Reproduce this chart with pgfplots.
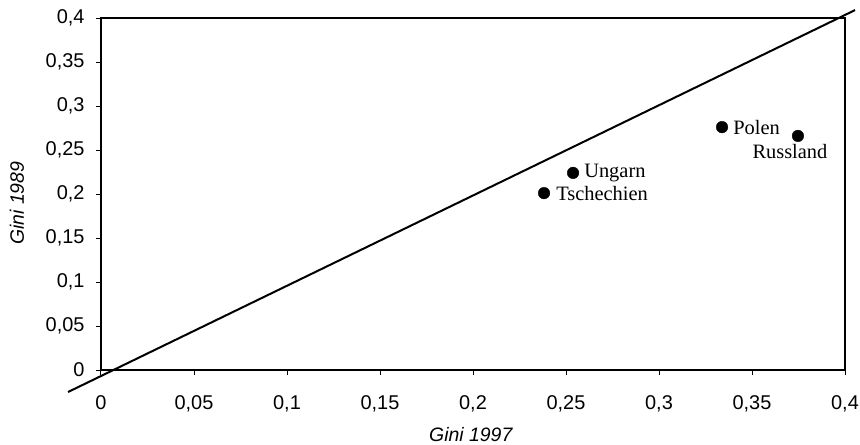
\documentclass[border=0pt]{standalone}
\usepackage{fontspec}
\setmainfont{Liberation Serif}
\setsansfont{Liberation Sans}
\usepackage{pgfplots}
\pgfplotsset{compat=1.18}
\begin{document}
\begin{tikzpicture}
\begin{axis}[
  scale only axis,
  width=744bp, height=352bp,
  xmin=0, xmax=0.4, ymin=0, ymax=0.4,
  xtick={0,0.05,0.1,0.15,0.2,0.25,0.3,0.35,0.4},
  ytick={0,0.05,0.1,0.15,0.2,0.25,0.3,0.35,0.4},
  xticklabels={0,{0,05},{0,1},{0,15},{0,2},{0,25},{0,3},{0,35},{0,4}},
  yticklabels={0,{0,05},{0,1},{0,15},{0,2},{0,25},{0,3},{0,35},{0,4}},
  tick align=outside, xtick pos=bottom, ytick pos=left,
  major tick length=5bp,
  axis line style={line width=1.4bp},
  every tick/.style={black, line width=1bp},
  tick label style={font=\fontsize{20}{22}\selectfont\sffamily},
  xticklabel style={yshift=-17bp},
  yticklabel style={xshift=-8bp},
  xlabel={Gini 1997}, ylabel={Gini 1989},
  xlabel style={font=\fontsize{19.5}{21}\selectfont\sffamily\itshape, at={(axis description cs:0.497,-0.182)}, anchor=center},
  ylabel style={font=\fontsize{19.5}{21}\selectfont\sffamily\itshape, at={(axis description cs:-0.113,0.474)}, anchor=center},
  clip=false,
]
\addplot[black, line width=2bp, no marks] coordinates {(-0.0177,-0.025) (0.4054,0.409)};
\addplot[only marks, mark=*, mark size=5.8bp, black] coordinates {
  (0.3339,0.276) (0.3747,0.266) (0.2538,0.224) (0.2382,0.201)};
\node[anchor=west, inner sep=0pt, font=\fontsize{20.5}{22}\selectfont, xshift=11bp] at (axis cs:0.3339,0.276) {Polen};
\node[anchor=north, inner sep=0pt, font=\fontsize{20.5}{22}\selectfont, xshift=-8bp, yshift=-8bp] at (axis cs:0.3747,0.266) {Russland};
\node[anchor=west, inner sep=0pt, font=\fontsize{20.5}{22}\selectfont, xshift=11bp] at (axis cs:0.2538,0.224) {Ungarn};
\node[anchor=west, inner sep=0pt, font=\fontsize{20.5}{22}\selectfont, xshift=12bp] at (axis cs:0.2382,0.201) {Tschechien};
\end{axis}
\pgfresetboundingbox
\path (-101bp,-75bp) rectangle (759bp,370bp);
\end{tikzpicture}
\end{document}
